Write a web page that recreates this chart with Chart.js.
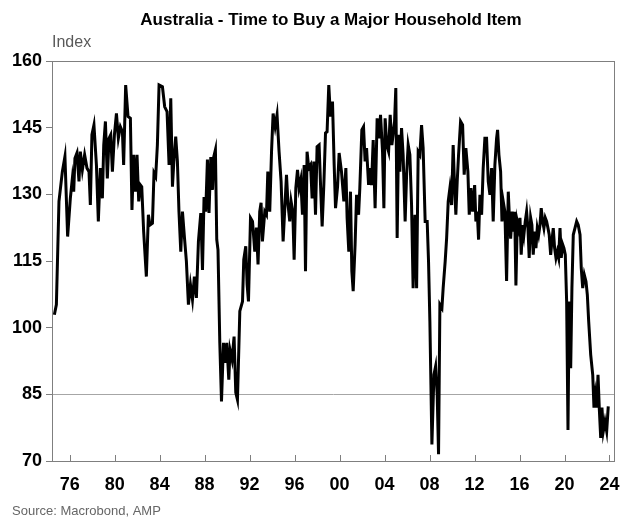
<!DOCTYPE html>
<html>
<head>
<meta charset="utf-8">
<script src="https://cdn.jsdelivr.net/npm/chart.js@4.4.1/dist/chart.umd.min.js"></script>
<style>
  html, body { margin: 0; padding: 0; background: #fff; }
  #wrap { width: 621px; height: 517px; position: relative; }
</style>
</head>
<body>
<div id="wrap"><canvas id="chart"></canvas></div>
<script>
// data (decimal year, index value)
const years = [
  1974.64, 1974.82, 1975.05, 1975.35, 1975.58, 1975.82, 1976.06, 1976.24, 1976.36, 1976.47,
  1976.65, 1976.83, 1976.95, 1977.13, 1977.33, 1977.54, 1977.72, 1977.84, 1977.98, 1978.16,
  1978.38, 1978.55, 1978.73, 1978.91, 1979.03, 1979.18, 1979.35, 1979.50, 1979.65, 1979.80,
  1979.98, 1980.16, 1980.33, 1980.51, 1980.69, 1980.80, 1980.98, 1981.19, 1981.40, 1981.54,
  1981.69, 1981.85, 1981.99, 1982.14, 1982.29, 1982.41, 1982.58, 1982.82, 1983.00, 1983.14,
  1983.36, 1983.50, 1983.65, 1983.80, 1983.95, 1984.25, 1984.45, 1984.66, 1984.84, 1984.99,
  1985.14, 1985.28, 1985.43, 1985.58, 1985.72, 1985.88, 1986.03, 1986.21, 1986.38, 1986.56,
  1986.74, 1986.92, 1987.09, 1987.27, 1987.45, 1987.66, 1987.81, 1987.95, 1988.10, 1988.25,
  1988.39, 1988.55, 1988.70, 1988.81, 1988.96, 1989.08, 1989.19, 1989.35, 1989.50, 1989.68,
  1989.85, 1989.97, 1990.15, 1990.26, 1990.44, 1990.62, 1990.77, 1990.92, 1991.13, 1991.37,
  1991.48, 1991.66, 1991.78, 1991.90, 1992.08, 1992.26, 1992.46, 1992.61, 1992.75, 1992.90,
  1993.02, 1993.14, 1993.35, 1993.50, 1993.62, 1993.79, 1993.95, 1994.09, 1994.27, 1994.44,
  1994.62, 1994.80, 1994.98, 1995.13, 1995.28, 1995.42, 1995.57, 1995.69, 1995.84, 1995.96,
  1996.11, 1996.26, 1996.40, 1996.55, 1996.70, 1996.85, 1996.97, 1997.11, 1997.26, 1997.42,
  1997.56, 1997.71, 1997.86, 1998.00, 1998.18, 1998.33, 1998.45, 1998.60, 1998.75, 1998.89,
  1999.04, 1999.19, 1999.37, 1999.52, 1999.64, 1999.82, 1999.96, 2000.17, 2000.38, 2000.56,
  2000.67, 2000.82, 2000.97, 2001.09, 2001.21, 2001.38, 2001.51, 2001.69, 2001.80, 2001.98,
  2002.13, 2002.27, 2002.40, 2002.58, 2002.69, 2002.84, 2002.99, 2003.16, 2003.34, 2003.52,
  2003.64, 2003.82, 2003.94, 2004.05, 2004.20, 2004.36, 2004.50, 2004.65, 2004.76, 2004.89,
  2005.00, 2005.12, 2005.25, 2005.36, 2005.51, 2005.65, 2005.83, 2005.96, 2006.10, 2006.25,
  2006.40, 2006.54, 2006.70, 2006.85, 2006.99, 2007.14, 2007.29, 2007.43, 2007.61, 2007.79,
  2007.91, 2008.03, 2008.21, 2008.39, 2008.54, 2008.68, 2008.80, 2008.92, 2009.10, 2009.21,
  2009.39, 2009.52, 2009.66, 2009.81, 2009.96, 2010.10, 2010.23, 2010.34, 2010.46, 2010.58,
  2010.76, 2010.94, 2011.08, 2011.23, 2011.41, 2011.53, 2011.68, 2011.83, 2012.01, 2012.12,
  2012.24, 2012.36, 2012.48, 2012.63, 2012.77, 2012.92, 2013.07, 2013.22, 2013.37, 2013.52,
  2013.66, 2013.81, 2013.96, 2014.05, 2014.17, 2014.32, 2014.44, 2014.55, 2014.70, 2014.85,
  2015.00, 2015.09, 2015.21, 2015.35, 2015.44, 2015.57, 2015.68, 2015.80, 2015.92, 2016.04,
  2016.15, 2016.28, 2016.39, 2016.51, 2016.63, 2016.75, 2016.86, 2016.99, 2017.10, 2017.22,
  2017.35, 2017.46, 2017.58, 2017.70, 2017.82, 2017.93, 2018.06, 2018.17, 2018.29, 2018.41,
  2018.53, 2018.64, 2018.77, 2018.88, 2019.00, 2019.12, 2019.24, 2019.36, 2019.48, 2019.60,
  2019.71, 2019.84, 2019.95, 2020.07, 2020.19, 2020.31, 2020.42, 2020.55, 2020.66, 2020.78,
  2020.93, 2021.08, 2021.22, 2021.38, 2021.49, 2021.62, 2021.76, 2021.91, 2022.03, 2022.15,
  2022.33, 2022.51, 2022.62, 2022.74, 2022.86, 2022.98, 2023.09, 2023.22, 2023.33, 2023.45,
  2023.60, 2023.75, 2023.89
];

const indexValues = [
  102.9, 105.2, 128.4, 135.1, 138.5, 120.5, 129.1, 133.6, 130.6, 138.1,
  139.3, 132.9, 139.6, 135.5, 138.9, 135.9, 135.1, 127.6, 143.4, 145.6,
  136.6, 123.9, 135.9, 129.1, 141.1, 146.4, 133.6, 142.6, 143.4, 135.1,
  143.4, 148.2, 142.6, 145.2, 144.1, 136.6, 154.6, 147.5, 147.1, 126.5,
  138.9, 130.6, 138.9, 128.4, 132.1, 131.7, 121.6, 111.5, 125.4, 123.1,
  123.5, 134.8, 134.0, 141.1, 154.6, 154.2, 149.7, 148.6, 136.6, 151.6,
  131.7, 138.1, 143.0, 137.4, 126.1, 117.1, 126.1, 120.2, 114.9, 105.2,
  109.7, 106.3, 111.5, 106.7, 119.4, 125.8, 113.0, 129.4, 126.1, 137.8,
  125.8, 138.4, 131.0, 138.4, 140.0, 119.8, 117.5, 96.6, 83.4, 96.6,
  92.1, 96.6, 88.3, 95.0, 92.8, 98.0, 85.4, 83.8, 103.7, 105.9,
  115.3, 118.3, 109.7, 105.9, 124.7, 123.9, 117.1, 122.5, 114.2, 126.1,
  128.1, 119.4, 126.1, 125.4, 135.1, 126.1, 139.6, 148.2, 145.2, 147.9,
  139.6, 132.9, 119.4, 126.9, 134.4, 127.6, 123.9, 128.4, 126.1, 115.3,
  131.4, 135.5, 131.4, 133.3, 125.4, 136.6, 112.7, 139.6, 135.9, 136.6,
  129.1, 137.4, 125.4, 140.7, 141.1, 130.6, 122.8, 132.1, 143.8, 144.1,
  154.6, 147.5, 150.9, 136.6, 126.9, 131.7, 139.3, 135.1, 128.4, 135.9,
  124.7, 117.1, 130.6, 112.7, 108.2, 118.7, 129.9, 125.4, 131.4, 144.5,
  145.2, 137.4, 140.4, 132.1, 135.9, 132.1, 142.2, 126.9, 147.1, 142.6,
  147.9, 139.6, 126.9, 147.1, 141.1, 139.6, 147.9, 141.1, 143.4, 146.4,
  153.9, 120.2, 143.4, 135.1, 144.9, 138.9, 123.9, 134.4, 141.1, 138.9,
  127.6, 108.9, 125.4, 108.9, 139.6, 138.9, 145.6, 140.4, 123.9, 123.9,
  114.9, 101.4, 73.7, 89.4, 91.3, 84.9, 71.5, 105.2, 104.4, 108.9,
  114.9, 120.2, 128.4, 131.4, 127.6, 141.1, 131.4, 125.4, 132.9, 138.9,
  146.4, 145.6, 134.4, 140.4, 135.1, 125.4, 131.4, 126.1, 132.1, 123.9,
  126.1, 119.8, 129.9, 125.4, 135.9, 142.6, 142.6, 132.9, 129.9, 135.9,
  123.9, 136.6, 142.6, 144.5, 138.9, 135.1, 123.9, 128.4, 126.1, 110.5,
  130.6, 125.4, 120.0, 126.1, 121.6, 126.1, 109.5, 123.9, 122.4, 124.7,
  116.4, 123.1, 120.9, 123.9, 126.1, 122.4, 115.7, 124.7, 123.1, 116.4,
  121.6, 117.9, 122.4, 120.9, 123.1, 126.9, 123.9, 122.4, 124.7, 123.9,
  122.4, 120.9, 116.4, 119.4, 122.4, 117.9, 115.7, 117.1, 115.7, 122.4,
  115.7, 118.7, 117.9, 116.4, 105.9, 77.0, 105.9, 90.9, 108.9, 120.9,
  122.4, 123.9, 123.1, 120.9, 113.4, 108.9, 111.9, 110.4, 107.4, 101.4,
  93.9, 89.4, 82.0, 84.9, 82.0, 89.4, 82.0, 75.2, 82.0, 76.7,
  78.9, 76.7, 82.3
];

const yearTicks = [1976, 1980, 1984, 1988, 1992, 1996, 2000, 2004, 2008, 2012, 2016, 2020, 2024];
const valueTicks = [70, 85, 100, 115, 130, 145, 160];

const chartTitle = 'Australia - Time to Buy a Major Household Item';
const unitLabel = 'Index';
const sourceNote = 'Source: Macrobond, AMP';

const FONT = '"Liberation Sans", Arial, sans-serif';

/* ---------- TEXT + FRAME PLUGIN ---------- */
const framePlugin = {
  id: 'frame',
  afterDraw(chart) {
    const ctx = chart.ctx;
    const a = chart.chartArea;
    const xs = chart.scales.x;
    ctx.save();
    // plot border
    ctx.strokeStyle = '#7f7f7f';
    ctx.lineWidth = 1;
    ctx.strokeRect(Math.round(a.left) + 0.5, Math.round(a.top) + 0.5,
      Math.round(a.right - a.left) - 1, Math.round(a.bottom - a.top));
    // x ticks pointing into the plot
    yearTicks.forEach(y => {
      const px = Math.round(xs.getPixelForValue(y)) + 0.5;
      ctx.beginPath();
      ctx.moveTo(px, a.bottom);
      ctx.lineTo(px, a.bottom - 6);
      ctx.stroke();
    });
    // title and labels
    ctx.fillStyle = '#000';
    ctx.font = 'bold 17px ' + FONT;
    ctx.textAlign = 'center';
    ctx.textBaseline = 'middle';
    ctx.fillText(chartTitle, 331, 20);
    ctx.fillStyle = '#595959';
    ctx.font = '16px ' + FONT;
    ctx.textAlign = 'left';
    ctx.fillText(unitLabel, 52, 43);
    ctx.fillStyle = '#666';
    ctx.font = '13px ' + FONT;
    ctx.fillText(sourceNote, 12, 511);
    ctx.restore();
  }
};

new Chart(document.getElementById('chart'), {
  type: 'line',
  plugins: [framePlugin],
  data: {
    datasets: [{
      data: years.map((yr, i) => ({ x: yr, y: indexValues[i] })),
      borderColor: '#000',
      borderWidth: 3,
      pointRadius: 0,
      tension: 0,
      borderJoinStyle: 'miter'
    }]
  },
  options: {
    responsive: true,
    maintainAspectRatio: false,
    animation: false,
    devicePixelRatio: 1,
    layout: { padding: { top: 61, right: 6, left: 0, bottom: 0 } },
    plugins: { legend: { display: false }, tooltip: { enabled: false } },
    scales: {
      x: {
        type: 'linear',
        min: 1974.43,
        max: 2024.49,
        afterBuildTicks: s => { s.ticks = yearTicks.map(v => ({ value: v })); },
        afterFit: s => { s.height = 56; s.paddingLeft = 0; s.paddingRight = 0; },
        grid: { display: false, drawTicks: false },
        border: { display: false },
        ticks: {
          color: '#000',
          padding: 13,
          maxRotation: 0,
          autoSkip: false,
          font: { family: FONT, size: 18, weight: 'bold' },
          callback: v => String(v).slice(2)
        }
      },
      y: {
        min: 70,
        max: 160,
        afterBuildTicks: s => { s.ticks = valueTicks.map(v => ({ value: v })); },
        afterFit: s => { s.width = 52; s.paddingTop = 0; s.paddingBottom = 0; },
        grid: {
          color: c => (c.tick && c.tick.value === 85 ? '#a6a6a6' : 'rgba(0,0,0,0)'),
          tickColor: '#7f7f7f',
          tickLength: 6,
          drawTicks: true
        },
        border: { display: false },
        ticks: {
          color: '#000',
          padding: 4,
          font: { family: FONT, size: 18, weight: 'bold' }
        }
      }
    }
  }
});
</script>
</body>
</html>
